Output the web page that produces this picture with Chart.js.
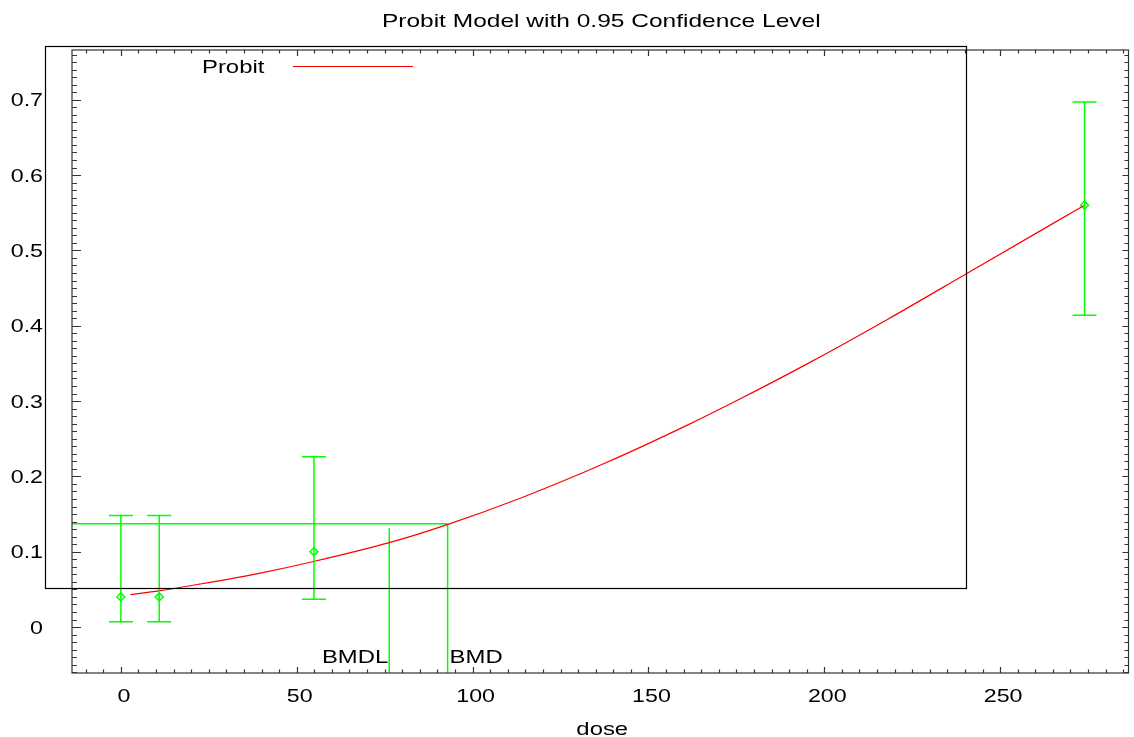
<!DOCTYPE html>
<html>
<head>
<meta charset="utf-8">
<script src="https://cdn.jsdelivr.net/npm/chart.js@4.4.1/dist/chart.umd.min.js"></script>
<style>
  html, body { margin: 0; padding: 0; background: #fff; }
  canvas { display: block; }
</style>
</head>
<body>
<canvas id="probit" width="1134" height="737"></canvas>
<script>
// observed dose groups: mean response and 95% confidence limits
const doses   = [0, 10.9, 54.9, 274];
const means   = [0.040, 0.040, 0.100, 0.560];
const lowerCI = [0.007, 0.007, 0.037, 0.414];
const upperCI = [0.148, 0.148, 0.226, 0.697];

// fitted probit curve
const curveDose = [2.7, 10.8, 22.4, 40, 54.8, 76.3, 92.8, 114.1, 137.9, 161.5, 175.7, 194.6, 218.2, 240.4, 274];
const curveResp = [0.043, 0.048, 0.057, 0.072, 0.087, 0.112, 0.136, 0.172, 0.218, 0.269, 0.302, 0.348, 0.409, 0.469, 0.560];

// benchmark dose results
const bmrLevel = 0.137;
const bmd = 92.9;
const bmdl = 76.3;
const bmdlTop = 0.131;

// axes
const xRange = [-13.9, 286.5];
const yRange = [-0.061, 0.766];
const xTicks = [0, 50, 100, 150, 200, 250];
const yTicks = [0, 0.1, 0.2, 0.3, 0.4, 0.5, 0.6, 0.7];
const yTickLabels = ["0", "0.1", "0.2", "0.3", "0.4", "0.5", "0.6", "0.7"];

const GREEN = "#00ff00";
const AXIS = "#333";
const FONT = "Liberation Sans, Arial, Helvetica, sans-serif";
const SX = 1.29; // text is drawn a bit wide

function wideText(ctx, text, x, y, size, align) {
  ctx.font = `${size}px ${FONT}`;
  const w = ctx.measureText(text).width * SX;
  let left = x;
  if (align === "center") left = x - w / 2;
  else if (align === "right") left = x - w;
  ctx.save();
  ctx.translate(left, y);
  ctx.scale(SX, 1);
  ctx.textAlign = "left";
  ctx.textBaseline = "alphabetic";
  ctx.fillStyle = "#000";
  ctx.fillText(text, 0, 0);
  ctx.restore();
}

const decorations = {
  id: "decorations",
  afterDatasetsDraw(chart) {
    const { ctx, chartArea: a, scales: { x, y } } = chart;

    // error bars
    ctx.save();
    ctx.strokeStyle = GREEN;
    ctx.lineWidth = 1.5;
    doses.forEach((d, i) => {
      const px = x.getPixelForValue(d);
      const top = y.getPixelForValue(upperCI[i]);
      const bot = y.getPixelForValue(lowerCI[i]);
      ctx.beginPath();
      ctx.moveTo(px, top); ctx.lineTo(px, bot);
      ctx.moveTo(px - 12, top); ctx.lineTo(px + 12, top);
      ctx.moveTo(px - 12, bot); ctx.lineTo(px + 12, bot);
      ctx.stroke();
    });
    ctx.restore();

    // frame and inward ticks
    ctx.save();
    ctx.strokeStyle = AXIS;
    ctx.lineWidth = 1.2;
    ctx.strokeRect(a.left, a.top, a.right - a.left, a.bottom - a.top);
    ctx.beginPath();
    for (let v = -10; v <= xRange[1]; v += 5) {
      const px = Math.round(x.getPixelForValue(v)) + 0.5;
      const major = v % 50 === 0;
      const len = major ? 6 : 3.5;
      ctx.moveTo(px, a.bottom); ctx.lineTo(px, a.bottom - len);
      ctx.moveTo(px, a.top); ctx.lineTo(px, a.top + len);
    }
    for (let k = -6; k <= 76; k++) {
      const py = Math.round(y.getPixelForValue(k / 100)) + 0.5;
      const major = k % 10 === 0;
      ctx.moveTo(a.left, py); ctx.lineTo(a.left + (major ? 9 : 5), py);
      ctx.moveTo(a.right, py); ctx.lineTo(a.right - (major ? 6 : 4), py);
    }
    ctx.stroke();
    ctx.restore();

    // tick labels
    xTicks.forEach(v => wideText(ctx, String(v), x.getPixelForValue(v) + 3, a.bottom + 29, 18, "center"));
    yTicks.forEach((v, i) => wideText(ctx, yTickLabels[i], a.left - 29, y.getPixelForValue(v) + 6.5, 18, "right"));

    // axis title and chart title
    wideText(ctx, "dose", (a.left + a.right) / 2 + 2, 735, 18.5, "center");
    wideText(ctx, "Probit Model with 0.95 Confidence Level", (a.left + a.right) / 2 + 1, 26.5, 19, "center");

    // legend box
    ctx.save();
    ctx.strokeStyle = "#000";
    ctx.lineWidth = 1.2;
    const bx0 = x.getPixelForValue(-21.6), bx1 = x.getPixelForValue(240.3);
    const by0 = y.getPixelForValue(0.771), by1 = y.getPixelForValue(0.0515);
    ctx.strokeRect(Math.round(bx0) + 0.5, Math.round(by0) + 0.5, Math.round(bx1 - bx0), Math.round(by1 - by0));
    ctx.restore();

    // legend entry
    wideText(ctx, "Probit", 202, 73, 18.5, "left");
    ctx.save();
    ctx.strokeStyle = "#ff0000";
    ctx.lineWidth = 1;
    ctx.beginPath();
    ctx.moveTo(293, 66.5); ctx.lineTo(413, 66.5);
    ctx.stroke();
    ctx.restore();

    // BMD markers
    wideText(ctx, "BMDL", x.getPixelForValue(bmdl) - 1, a.bottom - 10, 18.5, "right");
    wideText(ctx, "BMD", x.getPixelForValue(bmd) + 2, a.bottom - 10, 18.5, "left");
  }
};

const greenLine = pts => ({
  type: "line",
  data: pts,
  borderColor: GREEN,
  borderWidth: 1.5,
  pointRadius: 0,
  fill: false
});

new Chart(document.getElementById("probit"), {
  type: "scatter",
  data: {
    datasets: [
      {
        type: "line",
        label: "Probit",
        data: curveDose.map((d, i) => ({ x: d, y: curveResp[i] })),
        borderColor: "#ff0000",
        borderWidth: 1.2,
        pointRadius: 0,
        cubicInterpolationMode: "monotone",
        fill: false
      },
      greenLine([{ x: xRange[0], y: bmrLevel }, { x: bmd, y: bmrLevel }]),
      greenLine([{ x: bmd, y: bmrLevel }, { x: bmd, y: yRange[0] }]),
      greenLine([{ x: bmdl, y: bmdlTop }, { x: bmdl, y: yRange[0] }]),
      {
        label: "Data",
        data: doses.map((d, i) => ({ x: d, y: means[i] })),
        pointStyle: "rectRot",
        pointRadius: 4,
        borderColor: GREEN,
        backgroundColor: "rgba(0,0,0,0)",
        borderWidth: 1.5
      }
    ]
  },
  options: {
    responsive: false,
    animation: false,
    layout: { padding: { left: 72, right: 3, top: 50, bottom: 64 } },
    plugins: { legend: { display: false }, tooltip: { enabled: false }, title: { display: false } },
    scales: {
      x: { type: "linear", min: xRange[0], max: xRange[1], display: false },
      y: { type: "linear", min: yRange[0], max: yRange[1], display: false }
    }
  },
  plugins: [decorations]
});
</script>
</body>
</html>
